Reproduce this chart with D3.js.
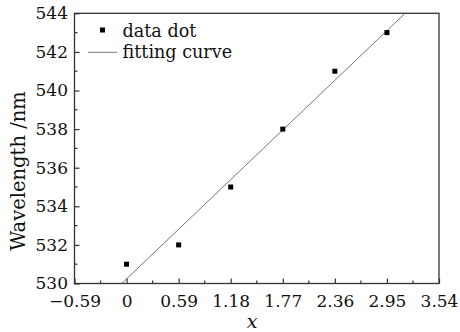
<!DOCTYPE html>
<html>
<head>
<meta charset="utf-8">
<script src="https://cdn.jsdelivr.net/npm/d3@7"></script>
<style>
  body { margin: 0; background: #fff; }
  text { font-family: "DejaVu Serif", serif; fill: #111; }
</style>
</head>
<body>
<svg id="chart" width="460" height="332"></svg>
<script>
// measured points
const xValues = [0, 0.59, 1.18, 1.77, 2.36, 2.95];
const wavelengths = [531, 532, 535, 538, 541, 543];

// linear fit
const fitSlope = 4.36;
const fitIntercept = 530.24;

const xTicks = [-0.59, 0, 0.59, 1.18, 1.77, 2.36, 2.95, 3.54];
const yTicks = [530, 532, 534, 536, 538, 540, 542, 544];

const legendLabels = ["data dot", "fitting curve"];

const svg = d3.select("#chart");
const margin = { left: 74.5, right: 21, top: 13.3, bottom: 48.5 };
const width = 460 - margin.left - margin.right;
const height = 332 - margin.top - margin.bottom;

const x = d3.scaleLinear().domain([-0.59, 3.54]).range([0, width]);
const y = d3.scaleLinear().domain([530, 544]).range([height, 0]);

const g = svg.append("g").attr("transform", `translate(${margin.left},${margin.top})`);

g.append("clipPath").attr("id", "plot-clip")
  .append("rect").attr("width", width).attr("height", height);

// minor ticks halfway between majors
const xMinor = d3.pairs(xTicks).map(p => (p[0] + p[1]) / 2);
const yMinor = d3.pairs(yTicks).map(p => (p[0] + p[1]) / 2);

const fmt = d => d === 0 ? "0" : (d < 0 ? "\u2212" + Math.abs(d).toFixed(2) : d.toFixed(2));

const xAxis = g.append("g").attr("transform", `translate(0,${height})`)
  .call(d3.axisBottom(x).tickValues(xTicks).tickSizeInner(-5).tickSizeOuter(0).tickPadding(11).tickFormat(fmt));
xAxis.append("g").selectAll("line").data(xMinor).enter().append("line")
  .attr("x1", d => x(d)).attr("x2", d => x(d)).attr("y1", 0).attr("y2", -3);

const yAxis = g.append("g")
  .call(d3.axisLeft(y).tickValues(yTicks).tickSizeInner(-5).tickSizeOuter(0).tickPadding(6.5).tickFormat(d3.format("d")));
yAxis.append("g").selectAll("line").data(yMinor).enter().append("line")
  .attr("x1", 0).attr("x2", 3).attr("y1", d => y(d)).attr("y2", d => y(d));

[xAxis, yAxis].forEach(a => {
  a.select(".domain").remove();
  a.selectAll("line").attr("stroke", "#333").attr("stroke-width", 1.2);
  a.selectAll("text").attr("font-size", 17).attr("font-family", "DejaVu Serif").attr("fill", "#111");
});

// frame
g.append("rect").attr("width", width).attr("height", height)
  .attr("fill", "none").attr("stroke", "#333").attr("stroke-width", 1.3);

// fitting line
const fitX0 = (530 - fitIntercept) / fitSlope;
const fitX1 = (544 - fitIntercept) / fitSlope;
g.append("line")
  .attr("clip-path", "url(#plot-clip)")
  .attr("x1", x(fitX0)).attr("y1", y(fitIntercept + fitSlope * fitX0))
  .attr("x2", x(fitX1)).attr("y2", y(fitIntercept + fitSlope * fitX1))
  .attr("stroke", "#666").attr("stroke-width", 0.9);

// data squares
const sq = 5;
g.selectAll(".dot").data(xValues).enter().append("rect")
  .attr("class", "dot")
  .attr("x", d => x(d) - sq / 2)
  .attr("y", (d, i) => y(wavelengths[i]) - sq / 2)
  .attr("width", sq).attr("height", sq)
  .attr("fill", "#000");

// legend
const legend = svg.append("g");
legend.append("rect").attr("x", 100).attr("y", 27.5).attr("width", 5).attr("height", 5).attr("fill", "#000");
legend.append("line").attr("x1", 88).attr("x2", 117).attr("y1", 52.3).attr("y2", 52.3)
  .attr("stroke", "#666").attr("stroke-width", 0.9);
legend.selectAll("text").data(legendLabels).enter().append("text")
  .attr("x", 122.5).attr("y", (d, i) => 36.5 + i * 21.5)
  .attr("font-size", 17.6).text(d => d);

// axis titles
svg.append("text")
  .attr("transform", "translate(25,171) rotate(-90)")
  .attr("text-anchor", "middle").attr("font-size", 19.5)
  .text("Wavelength /nm");

svg.append("text")
  .attr("x", 252).attr("y", 328)
  .attr("text-anchor", "middle").attr("font-size", 19).attr("font-style", "italic")
  .text("x");
</script>
</body>
</html>
